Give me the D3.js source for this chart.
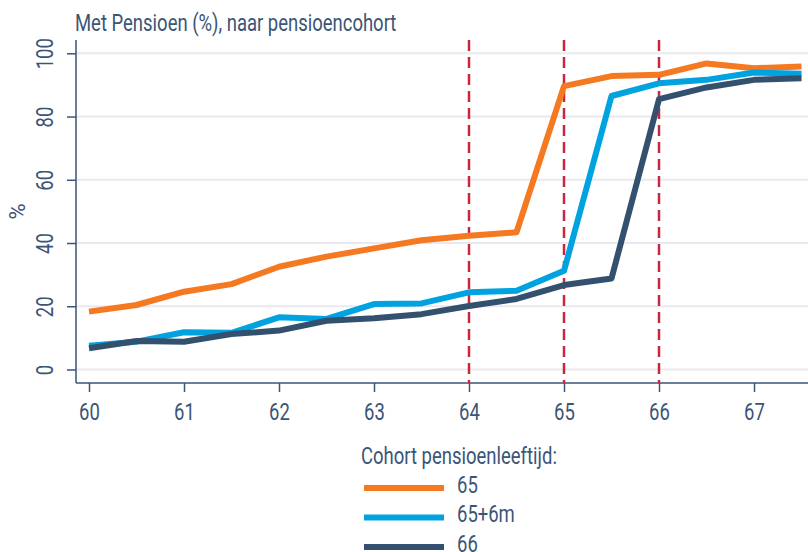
<!DOCTYPE html>
<html>
<head>
<meta charset="utf-8">
<script src="https://cdn.jsdelivr.net/npm/d3@7"></script>
<style>
  body { margin: 0; background: #fff; }
  text { font-family: Roboto, "Liberation Sans", sans-serif; fill: #3b5577; }
</style>
</head>
<body>
<div id="chart"></div>
<script>
// leeftijd in halve jaren
var ages = [60, 60.5, 61, 61.5, 62, 62.5, 63, 63.5, 64, 64.5, 65, 65.5, 66, 66.5, 67, 67.5];
var cohort65   = [18.3, 20.4, 24.6, 27.0, 32.5, 35.7, 38.3, 40.9, 42.3, 43.4, 89.6, 92.8, 93.2, 96.8, 95.3, 95.8];
var cohort65h  = [7.5, 8.8, 11.8, 11.6, 16.5, 16.0, 20.7, 20.9, 24.4, 24.9, 31.2, 86.5, 90.5, 91.6, 93.9, 93.5];
var cohort66   = [6.7, 9.0, 8.8, 11.2, 12.3, 15.4, 16.2, 17.5, 20.1, 22.3, 26.7, 28.8, 85.5, 89.2, 91.6, 92.1];
var seriesNames = ["65", "65+6m", "66"];
var cutoffs = [64, 65, 66];
var xTicks = [60, 61, 62, 63, 64, 65, 66, 67];
var yTicks = [0, 20, 40, 60, 80, 100];

var W = 808, H = 552;
var colors = ["#f47920", "#00a3e0", "#34506f"];
var axisColor = "#3b5577";
var squeeze = 0.77; // smalle letter zoals in het origineel

var svg = d3.select("#chart").append("svg")
    .attr("width", W)
    .attr("height", H);

var x = d3.scaleLinear().domain([60, 67]).range([89, 754]);
var y = d3.scaleLinear().domain([0, 100]).range([369.5, 53.3]);

var plotLeft = 76, plotRight = W, plotTop = 40, plotBottom = 383;

// tekst op positie, horizontaal versmald
function label(px, py, str, size, anchor) {
  return svg.append("text")
      .attr("transform", "translate(" + px + "," + py + ") scale(" + squeeze + ",1)")
      .attr("text-anchor", anchor || "start")
      .style("font-size", size + "px")
      .text(str);
}

// grid
svg.selectAll(".grid")
  .data(yTicks)
  .enter()
  .append("line")
    .attr("x1", plotLeft)
    .attr("x2", plotRight)
    .attr("y1", function(d){ return y(d); })
    .attr("y2", function(d){ return y(d); })
    .attr("stroke", "#e9e9ef")
    .attr("stroke-width", 2);

// title
label(75, 31, "Met Pensioen (%), naar pensioencohort", 24);

// y axis
var yAxis = svg.append("g")
    .attr("transform", "translate(" + plotLeft + ",0)")
    .call(d3.axisLeft(y).tickValues(yTicks).tickFormat(d3.format("d")).tickSize(9).tickSizeOuter(0));
yAxis.select(".domain").remove();
yAxis.selectAll(".tick line").attr("stroke", axisColor).attr("stroke-width", 1.5);
yAxis.selectAll(".tick text")
    .attr("x", 0).attr("dy", 0)
    .attr("transform", "translate(-31,0) rotate(-90) scale(" + squeeze + ",1)")
    .attr("text-anchor", "middle")
    .attr("dominant-baseline", "central")
    .style("font-size", "24px")
    .attr("fill", axisColor);
svg.append("line")
    .attr("x1", plotLeft).attr("x2", plotLeft)
    .attr("y1", plotTop).attr("y2", plotBottom)
    .attr("stroke", axisColor).attr("stroke-width", 1.5);

svg.append("text")
    .attr("transform", "translate(17," + y(50) + ") rotate(-90)")
    .attr("text-anchor", "middle")
    .attr("dominant-baseline", "central")
    .style("font-size", "22px")
    .text("%");

// x axis
var xAxis = svg.append("g")
    .attr("transform", "translate(0," + plotBottom + ")")
    .call(d3.axisBottom(x).tickValues(xTicks).tickFormat(d3.format("d")).tickSize(9).tickSizeOuter(0));
xAxis.select(".domain").remove();
xAxis.selectAll(".tick line").attr("stroke", axisColor).attr("stroke-width", 1.5);
xAxis.selectAll(".tick text")
    .attr("y", 0).attr("dy", 0)
    .attr("transform", "translate(0,37) scale(" + squeeze + ",1)")
    .style("font-size", "24px")
    .attr("fill", axisColor);
svg.append("line")
    .attr("x1", plotLeft).attr("x2", plotRight)
    .attr("y1", plotBottom).attr("y2", plotBottom)
    .attr("stroke", axisColor).attr("stroke-width", 1.5);

// vertical cutoff lines
svg.selectAll(".cutoff")
  .data(cutoffs)
  .enter()
  .append("line")
    .attr("x1", function(d){ return x(d); })
    .attr("x2", function(d){ return x(d); })
    .attr("y1", plotTop)
    .attr("y2", plotBottom)
    .attr("stroke", "#c8283f")
    .attr("stroke-width", 2.5)
    .attr("stroke-dasharray", "11,6");

// lines
var allSeries = [cohort65, cohort65h, cohort66];
var line = d3.line()
    .x(function(d, i){ return x(ages[i]); })
    .y(function(d){ return y(d); });

svg.selectAll(".serie")
  .data(allSeries)
  .enter()
  .append("path")
    .attr("d", function(d){ return line(d); })
    .attr("fill", "none")
    .attr("stroke", function(d, i){ return colors[i]; })
    .attr("stroke-width", 6)
    .attr("stroke-linejoin", "round");

// legend
label(361, 464, "Cohort pensioenleeftijd:", 24);

var legendY = d3.scaleLinear().domain([0, 1]).range([488, 517.5]);
svg.selectAll(".legline")
  .data(seriesNames)
  .enter()
  .append("line")
    .attr("x1", 364)
    .attr("x2", 444)
    .attr("y1", function(d, i){ return legendY(i); })
    .attr("y2", function(d, i){ return legendY(i); })
    .attr("stroke", function(d, i){ return colors[i]; })
    .attr("stroke-width", 6);

seriesNames.forEach(function(d, i){
  label(457, legendY(i) + 4.5, d, 24);
});
</script>
</body>
</html>
